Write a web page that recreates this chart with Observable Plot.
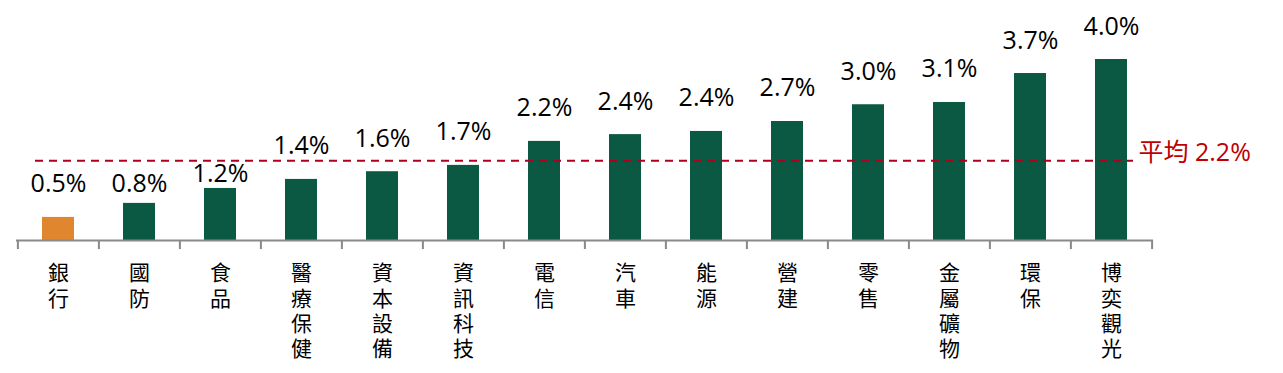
<!DOCTYPE html>
<html><head><meta charset="utf-8">
<script src="https://cdn.jsdelivr.net/npm/d3@7"></script>
<script src="https://cdn.jsdelivr.net/npm/@observablehq/plot@0.6"></script>
<style>html,body{margin:0;padding:0;background:#fff;}</style>
</head><body><div id="chart"></div>
<script>
const categories = ["銀行","國防","食品","醫療保健","資本設備","資訊科技","電信","汽車","能源","營建","零售","金屬礦物","環保","博奕觀光"];
const values = [0.51, 0.82, 1.15, 1.35, 1.52, 1.66, 2.19, 2.34, 2.41, 2.63, 3.0, 3.05, 3.69, 4.0];
const valueLabels = ["0.5%","0.8%","1.2%","1.4%","1.6%","1.7%","2.2%","2.4%","2.4%","2.7%","3.0%","3.1%","3.7%","4.0%"];
const highlight = ["銀行"];
const averageLevel = 1.76;
const averageLabel = "平均 2.2%";

const data = categories.map((c, i) => ({
  category: c, value: values[i], label: valueLabels[i],
  vertical: Array.from(c).join("\n")
}));
const step = (1283 - 16 - 130) / categories.length;
const grey = "#898989";
const latin = '"Open Sans", "Noto Sans CJK TC", sans-serif';
// labels lowered in the reference to stay clear of the average line
const labelShift = {"國防": 14, "食品": 19};
const labelMark = (rows, dy) => Plot.text(rows, {x: "category", y: "value", text: "label",
  dy, lineAnchor: "bottom", fontSize: 25, fill: "#000", fontFamily: latin});

const chart = Plot.plot({
  width: 1283, height: 373,
  marginLeft: 16, marginRight: 130, marginTop: 59, marginBottom: 133,
  x: {domain: categories, paddingInner: 0.6, paddingOuter: 0.3, axis: null},
  y: {domain: [0, 4], axis: null},
  style: {fontFamily: '"Noto Sans CJK TC", "Noto Sans", sans-serif', background: "#fff"},
  marks: [
    Plot.barY(data, {x: "category", y: "value",
      fill: d => highlight.includes(d.category) ? "#E0862F" : "#0B5843"}),
    Plot.ruleY([averageLevel], {stroke: "#B0001E", strokeWidth: 2, strokeDasharray: "8,6",
      insetLeft: 19, insetRight: 20}),
    Plot.text([averageLabel], {text: d => d, y: averageLevel, frameAnchor: "right",
      textAnchor: "start", dx: -15, dy: -8, fill: "#C00000", fontSize: 25, fontFamily: latin}),
    Plot.ruleY([0], {stroke: grey, strokeWidth: 2}),
    Plot.ruleX(categories, {x: d => d, y1: 0, y2: -0.2, dx: -step / 2, stroke: grey, strokeWidth: 2}),
    Plot.ruleX([categories[categories.length - 1]], {x: d => d, y1: 0, y2: -0.2, dx: step / 2, stroke: grey, strokeWidth: 2}),
    labelMark(data.filter(d => !(d.category in labelShift)), -25),
    ...Object.entries(labelShift).map(([c, s]) => labelMark(data.filter(d => d.category === c), -25 + s)),
    Plot.text(data, {x: "category", y: 0, text: "vertical", lineAnchor: "top", dy: 22,
      lineHeight: 1.2, fontSize: 21, fill: "#000"})
  ]
});
document.getElementById("chart").appendChild(chart);
</script>
</body></html>
